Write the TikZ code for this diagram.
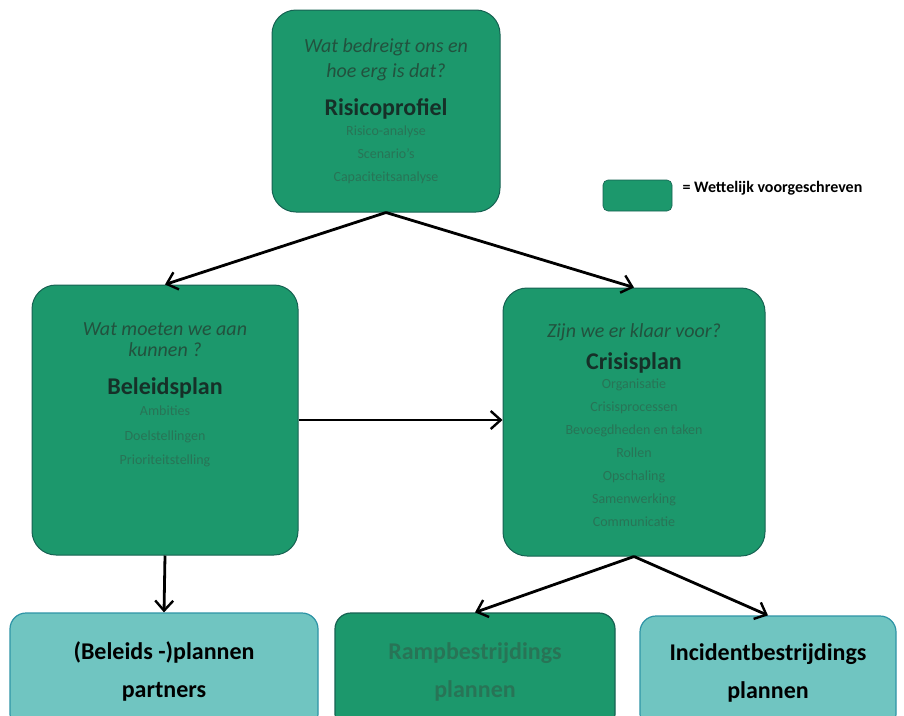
\documentclass[tikz,border=0pt]{standalone}
\usepackage{fontspec}
\setmainfont{Carlito}
\usepackage{xcolor}
\usetikzlibrary{arrows.meta}
\definecolor{wettelijk}{RGB}{28,152,108}
\definecolor{wettelijk-rand}{RGB}{22,98,82}
\definecolor{overig}{RGB}{112,197,193}
\definecolor{overig-rand}{RGB}{46,148,166}
\definecolor{vraagkleur}{RGB}{34,82,62}
\definecolor{titelkleur}{RGB}{22,48,40}
\definecolor{vaagkleur}{RGB}{40,116,86}
\newcommand{\vraagtekst}[1]{{\color{vraagkleur}\itshape\fontsize{20}{23}\selectfont #1}}
\newcommand{\titeltekst}[1]{{\color{titelkleur}\bfseries\fontsize{24}{23}\selectfont #1}}
\newcommand{\vaagtekst}[1]{{\color{vaagkleur}\fontsize{14}{23}\selectfont #1}}
\tikzset{
    plan-box/.style = {draw=wettelijk-rand, fill=wettelijk, line width=1pt, rectangle, rounded corners=24pt, inner sep=0pt},
    partner-box/.style = {draw=overig-rand, fill=overig, line width=1.2pt, rectangle, rounded corners=16pt, inner sep=0pt, align=center, font=\fontsize{24}{38}\selectfont\bfseries},
    legend-text/.style = {font=\fontsize{16}{18}\selectfont\bfseries, inner sep=0pt},
    pijl/.style = {line width=2.8pt, -{Straight Barb[length=10pt,width=18pt,line width=2.4pt]}},
}

\begin{document}
\begin{tikzpicture}[x=1pt, y=-1pt]
\path[use as bounding box, fill=white] (0,0) rectangle (904,715);
\clip (0,0) rectangle (904,715);

\node [plan-box, minimum width=228pt, minimum height=202pt] (risico) at (386,111) {\begin{minipage}[c][202pt][t]{228pt}
    \centering\fontsize{14}{23}\selectfont
    \vspace{29pt}
    \vraagtekst{Wat bedreigt ons en}\\[2pt]
    \vraagtekst{hoe erg is dat?}\\[15pt]
    \titeltekst{Risicoprofiel}\\[-3pt]
    \vaagtekst{Risico-analyse}\\
    \vaagtekst{Scenario's}\\
    \vaagtekst{Capaciteitsanalyse}
\end{minipage}};

\node [plan-box, minimum width=266pt, minimum height=270pt] (beleid) at (165,420) {\begin{minipage}[c][270pt][t]{266pt}
    \centering\fontsize{14}{23}\selectfont
    \vspace{38pt}
    \vraagtekst{Wat moeten we aan}\\[-2pt]
    \vraagtekst{kunnen ?}\\[15pt]
    \titeltekst{Beleidsplan}\\[-2pt]
    \vaagtekst{Ambities}\\[2pt]
    \vaagtekst{Doelstellingen}\\[1pt]
    \vaagtekst{Prioriteitstelling}
\end{minipage}};

\node [plan-box, minimum width=262pt, minimum height=268pt] (crisis) at (634,422) {\begin{minipage}[c][268pt][t]{262pt}
    \centering\fontsize{14}{23}\selectfont
    \vspace{36pt}
    \vraagtekst{Zijn we er klaar voor?}\\[9pt]
    \titeltekst{Crisisplan}\\[-4pt]
    \vaagtekst{Organisatie}\\
    \vaagtekst{Crisisprocessen}\\
    \vaagtekst{Bevoegdheden en taken}\\
    \vaagtekst{Rollen}\\
    \vaagtekst{Opschaling}\\
    \vaagtekst{Samenwerking}\\
    \vaagtekst{Communicatie}
\end{minipage}};

\node [partner-box, minimum width=308pt, minimum height=117pt] (partners) at (164,671.5) {(Beleids -)plannen\\partners};
\node [partner-box, draw=wettelijk-rand, fill=wettelijk, text=vaagkleur, minimum width=280pt, minimum height=117pt] (ramp) at (475,671.5) {Rampbestrijdings\\plannen};
\node [partner-box, minimum width=256pt, minimum height=114pt] (incident) at (768,673) {Incidentbestrijdings\\plannen};

\node [plan-box, rounded corners=5pt, line width=0.6pt, minimum width=69pt, minimum height=31pt] (legenda) at (637.5,195.5) {};
\node [legend-text, right=10pt, yshift=7pt] at (legenda.east) (legenda-tekst) {= Wettelijk voorgeschreven};

\draw [pijl] (risico.south) -- (beleid.north);
\draw [pijl] (risico.south) -- (crisis.north);
\draw [pijl] (beleid.east) -- (beleid.east -| crisis.west);
\draw [pijl] (beleid.south) -- (partners.north);
\draw [pijl] (crisis.south) -- (ramp.north);
\draw [pijl] (crisis.south) -- (incident.north);
\end{tikzpicture}
\end{document}
